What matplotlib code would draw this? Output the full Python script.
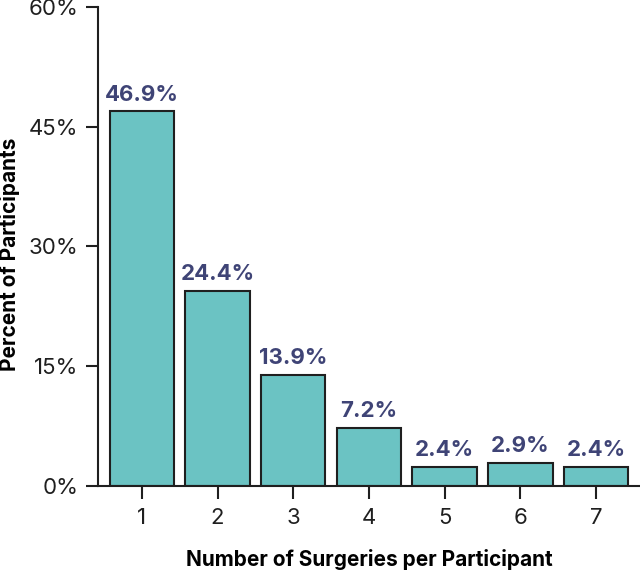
import matplotlib
matplotlib.use("Agg")
import matplotlib.pyplot as plt
from matplotlib.ticker import FuncFormatter

# data
surgeries = [1, 2, 3, 4, 5, 6, 7]
percents = [46.9, 24.4, 13.9, 7.2, 2.4, 2.9, 2.4]
labels = ['46.9%', '24.4%', '13.9%', '7.2%', '2.4%', '2.9%', '2.4%']
yticks = [0, 15, 30, 45, 60]

plt.rcParams['font.family'] = ['Inter', 'DejaVu Sans']

fig = plt.figure(figsize=(6.4, 5.73), dpi=100)
ax = fig.add_axes([0.153, 0.152, 0.847, 0.836])

bars = ax.bar(surgeries, percents, width=0.85, color='#6bc3c3',
              edgecolor='#1f1f1f', linewidth=1.5, zorder=2)

for rect, txt in zip(bars, labels):
    ax.annotate(txt, (rect.get_x() + rect.get_width() / 2, rect.get_height()),
                xytext=(0, 5), textcoords='offset points',
                ha='center', va='bottom', fontsize=16, fontweight='bold',
                color='#3f4476')

ax.set_xlim(0.42, 7.58)
ax.set_ylim(0, 60)
ax.set_yticks(yticks)
ax.yaxis.set_major_formatter(FuncFormatter(lambda v, p: f'{int(v)}%'))
ax.set_xticks(surgeries)

for s in ['top', 'right']:
    ax.spines[s].set_visible(False)
for s in ['left', 'bottom']:
    ax.spines[s].set_linewidth(1.5)
    ax.spines[s].set_color('#1f1f1f')

ax.tick_params(axis='both', direction='out', length=9, width=1.5,
               labelsize=16, color='#1f1f1f', labelcolor='#1f1f1f')
ax.tick_params(axis='y', pad=5)
ax.tick_params(axis='x', pad=7)

ax.set_xlabel('Number of Surgeries per Participant', fontsize=15,
              fontweight='bold', labelpad=15)
ax.set_ylabel('Percent of Participants', fontsize=15, fontweight='bold')
ax.yaxis.set_label_coords(-0.143, 0.484)

fig.savefig('out.png', dpi=100)
